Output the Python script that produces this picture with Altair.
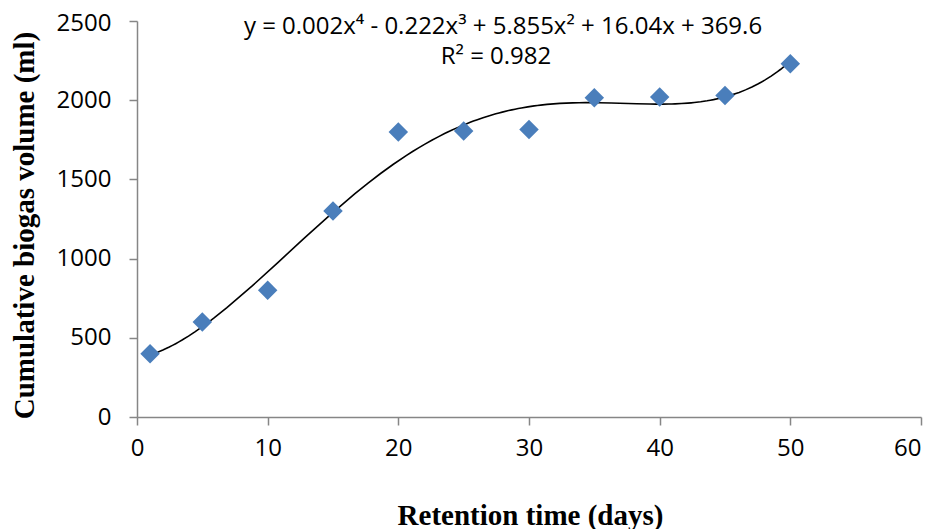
import altair as alt
import pandas as pd

# ---- data ----
days = [1, 5, 10, 15, 20, 25, 30, 35, 40, 45, 50]
volume = [400, 600, 800, 1300, 1800, 1805, 1815, 2015, 2020, 2030, 2230]
x_ticks = [0, 10, 20, 30, 40, 50, 60]
y_ticks = [0, 500, 1000, 1500, 2000, 2500]
equation_text = ["y = 0.002x\u2074 - 0.222x\u00b3 + 5.855x\u00b2 + 16.04x + 369.6"]
r2_text = ["R\u00b2 = 0.982"]

df = pd.DataFrame({"days": days, "volume": volume})

AXIS_GREY = "#868686"
LABEL_FONT = "Open Sans"
TITLE_FONT = "Liberation Serif"

x_enc = alt.X(
    "days:Q",
    scale=alt.Scale(domain=[0, 60], nice=False, zero=False),
    axis=alt.Axis(
        values=x_ticks,
        format="d",
        title="Retention time (days)",
        titleX=393,
        titleY=107,
        titleBaseline="alphabetic",
        titleAlign="center",
        labelPadding=11,
        labelAlign={"condition": {"test": "datum.value == 60", "value": "right"}, "value": "center"},
    ),
)
y_enc = alt.Y(
    "volume:Q",
    scale=alt.Scale(domain=[0, 2500], nice=False, zero=True),
    axis=alt.Axis(
        values=y_ticks,
        format="d",
        title="Cumulative biogas volume (ml)",
        titleAngle=270,
        titleX=-104,
        titleY=204,
        titleBaseline="alphabetic",
        titleAlign="center",
        labelPadding=18,
        labelOffset={"condition": {"test": "datum.value == 2500", "value": 2}, "value": 0},
    ),
)

base = alt.Chart(df)

trend = base.transform_regression(
    "days", "volume", method="poly", order=4, extent=[1, 50]
).mark_line(color="black", strokeWidth=1.6).encode(x=x_enc, y=y_enc)

points = base.mark_point(
    shape="diamond", filled=True, size=380, color="#4A7EBB", opacity=1
).encode(x=x_enc, y=y_enc)

eq = alt.Chart(pd.DataFrame({"t": equation_text})).mark_text(
    font=LABEL_FONT, fontSize=24, color="black", align="center", baseline="alphabetic"
).encode(text="t:N", x=alt.value(366), y=alt.value(13))

r2 = alt.Chart(pd.DataFrame({"t": r2_text})).mark_text(
    font=LABEL_FONT, fontSize=24, color="black", align="center", baseline="alphabetic"
).encode(text="t:N", x=alt.value(359), y=alt.value(43))

chart = (
    alt.layer(trend, points, eq, r2)
    .properties(
        width=784,
        height=396,
        autosize=alt.AutoSizeParams(type="none"),
        padding={"left": 129, "top": 13, "right": 6, "bottom": 112},
        background="white",
    )
    .configure_view(stroke=None)
    .configure_axis(
        grid=False,
        domainColor=AXIS_GREY,
        domainWidth=1.5,
        tickColor=AXIS_GREY,
        tickWidth=1.5,
        tickSize=8,
        labelFont=LABEL_FONT,
        labelFontSize=24,
        labelColor="black",
        titleFont=TITLE_FONT,
        titleFontSize=29,
        titleFontWeight="bold",
        titleColor="black",
        labelOverlap=False,
        labelBound=False,
        labelFlush=False,
    )
)

chart.save("out.html", embed_options={"renderer": "svg", "actions": False})
